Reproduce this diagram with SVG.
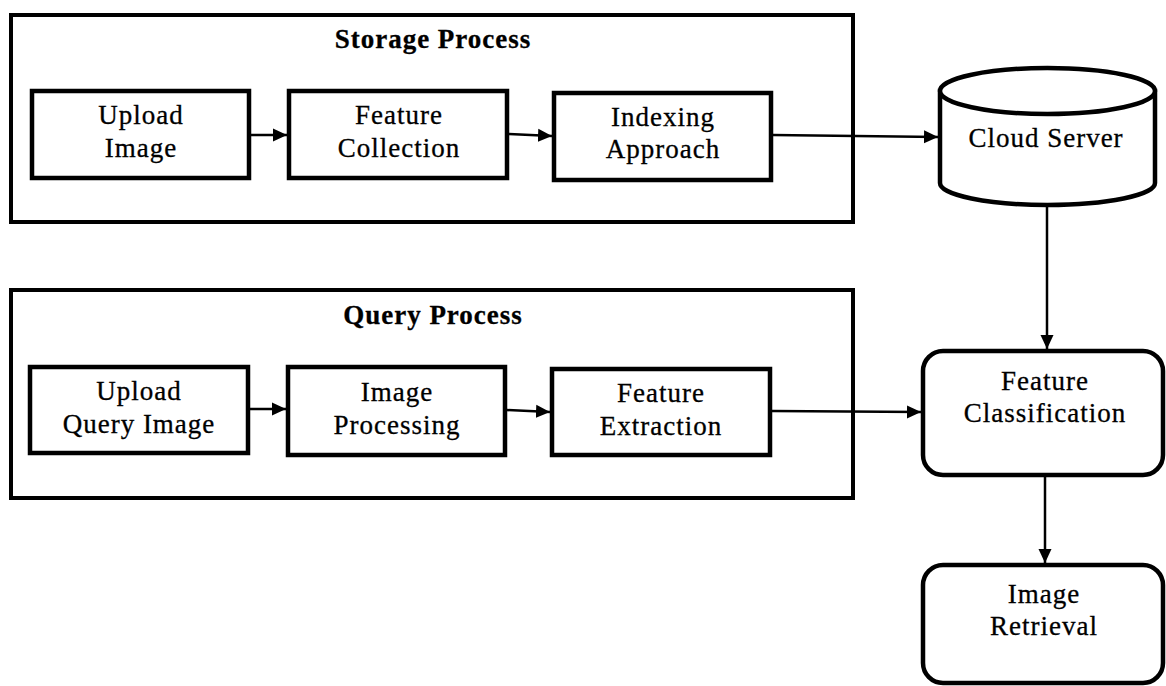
<svg xmlns="http://www.w3.org/2000/svg" width="1166" height="686" viewBox="0 0 1166 686">
  <style>
    .frame { fill: none; stroke: #000; stroke-width: 4; }
    .box { fill: #fff; stroke: #000; stroke-width: 4.5; }
    .label { font-family: "Liberation Serif", "Times New Roman", serif; font-size: 27px; letter-spacing: 1px; fill: #000; stroke: #000; stroke-width: 0.3; text-anchor: middle; }
    .title { font-weight: bold; }
    .wire { fill: none; stroke: #000; stroke-width: 2.5; }
  </style>
  <defs>
    <marker id="arrow" markerUnits="userSpaceOnUse" markerWidth="15" markerHeight="15" refX="14" refY="7.5" orient="auto">
      <path d="M0,1 L14,7.5 L0,14 Z" fill="#000"/>
    </marker>
  </defs>

  <rect width="1166" height="686" fill="#fff"/>

  <!-- Storage stage -->
  <g id="storage-process">
    <rect class="frame" x="11" y="15" width="842" height="207"/>
    <text class="label title" x="433" y="48">Storage Process</text>
  </g>
  <g id="upload-image">
    <rect class="box" x="32" y="91" width="217" height="87"/>
    <text class="label" x="141" y="124">Upload</text>
    <text class="label" x="141" y="157">Image</text>
  </g>
  <g id="feature-collection">
    <rect class="box" x="289" y="91" width="218" height="87"/>
    <text class="label" x="399" y="124">Feature</text>
    <text class="label" x="399" y="157">Collection</text>
  </g>
  <g id="indexing-approach">
    <rect class="box" x="554" y="93" width="217" height="87"/>
    <text class="label" x="663" y="126">Indexing</text>
    <text class="label" x="663" y="158">Approach</text>
  </g>

  <!-- Query stage -->
  <g id="query-process">
    <rect class="frame" x="11" y="290" width="842" height="208"/>
    <text class="label title" x="433" y="324">Query Process</text>
  </g>
  <g id="upload-query-image">
    <rect class="box" x="30" y="367" width="218" height="86"/>
    <text class="label" x="139" y="400">Upload</text>
    <text class="label" x="139" y="433">Query Image</text>
  </g>
  <g id="image-processing">
    <rect class="box" x="288" y="367" width="217" height="88"/>
    <text class="label" x="397" y="401">Image</text>
    <text class="label" x="397" y="434">Processing</text>
  </g>
  <g id="feature-extraction">
    <rect class="box" x="552" y="369" width="218" height="86"/>
    <text class="label" x="661" y="402">Feature</text>
    <text class="label" x="661" y="435">Extraction</text>
  </g>

  <!-- Right column -->
  <g id="cloud-server">
    <path class="box" d="M940,91 L940,183 A107.5,22 0 0 0 1155,183 L1155,91 Z"/>
    <ellipse class="box" cx="1047.5" cy="91" rx="107.5" ry="23"/>
    <text class="label" x="1046" y="147">Cloud Server</text>
  </g>
  <g id="feature-classification">
    <rect class="box" x="923" y="351" width="240" height="124" rx="20" ry="20"/>
    <text class="label" x="1045" y="390">Feature</text>
    <text class="label" x="1045" y="422">Classification</text>
  </g>
  <g id="image-retrieval">
    <rect class="box" x="923" y="565" width="240" height="118" rx="20" ry="20"/>
    <text class="label" x="1044" y="603">Image</text>
    <text class="label" x="1044" y="635">Retrieval</text>
  </g>

  <!-- Connectors -->
  <g id="connectors">
    <line class="wire" x1="251" y1="135" x2="287" y2="135" marker-end="url(#arrow)"/>
    <line class="wire" x1="509" y1="134" x2="552" y2="136" marker-end="url(#arrow)"/>
    <line class="wire" x1="773" y1="135" x2="938" y2="137" marker-end="url(#arrow)"/>
    <line class="wire" x1="1047" y1="206" x2="1047" y2="349" marker-end="url(#arrow)"/>
    <line class="wire" x1="250" y1="409" x2="286" y2="409" marker-end="url(#arrow)"/>
    <line class="wire" x1="507" y1="410" x2="550" y2="412" marker-end="url(#arrow)"/>
    <line class="wire" x1="772" y1="411" x2="921" y2="412" marker-end="url(#arrow)"/>
    <line class="wire" x1="1045" y1="477" x2="1045" y2="563" marker-end="url(#arrow)"/>
  </g>
</svg>
